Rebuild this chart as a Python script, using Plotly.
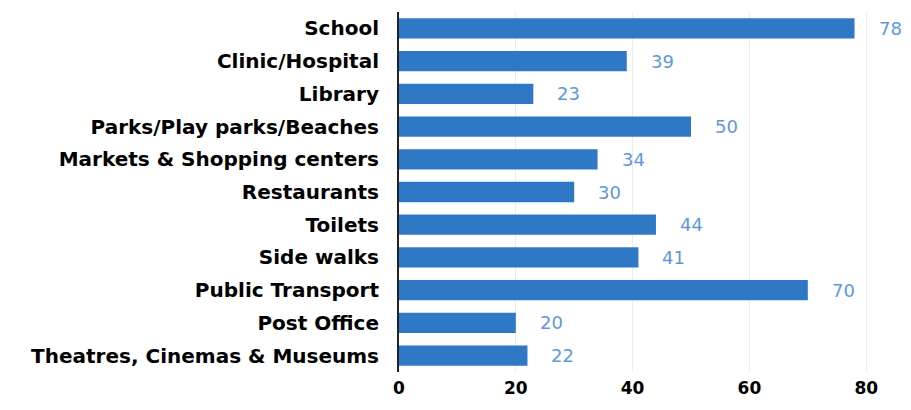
import plotly.graph_objects as go

categories = [
    "School",
    "Clinic/Hospital",
    "Library",
    "Parks/Play parks/Beaches",
    "Markets & Shopping centers",
    "Restaurants",
    "Toilets",
    "Side walks",
    "Public Transport",
    "Post Office",
    "Theatres, Cinemas & Museums",
]
values = [78, 39, 23, 50, 34, 30, 44, 41, 70, 20, 22]
x_ticks = [0, 20, 40, 60, 80]

BAR = "#2e78c6"
LABEL = "#5f98da"
FONT = "DejaVu Sans"

fig = go.Figure(
    go.Bar(
        x=values,
        y=categories,
        orientation="h",
        marker_color=BAR,
        marker_line_width=0,
    )
)

for cat, val in zip(categories, values):
    fig.add_annotation(
        x=val,
        y=cat,
        text=str(val),
        showarrow=False,
        xanchor="left",
        xshift=22,
        font=dict(family=FONT, size=18, color=LABEL),
    )

# page body has an 8px margin, keep the figure inside the window
fig.update_layout(
    width=895,
    height=394,
    margin=dict(l=391, r=0, t=4, b=30),
    plot_bgcolor="white",
    paper_bgcolor="white",
    showlegend=False,
    bargap=0.38,
    font=dict(family=FONT, color="black"),
)
fig.update_xaxes(
    range=[0, 86.3],
    tickvals=x_ticks,
    showgrid=True,
    gridcolor="#ececec",
    gridwidth=1,
    zeroline=False,
    showline=False,
    automargin=False,
    ticklabelstandoff=4,
    tickfont=dict(size=17, family=FONT, weight="bold"),
)
fig.update_yaxes(
    autorange="reversed",
    showline=True,
    linecolor="#222222",
    linewidth=2,
    ticks="",
    automargin=False,
    ticklabelstandoff=14,
    tickfont=dict(size=20, family=FONT, weight="bold"),
)

fig.write_html("out.html")
